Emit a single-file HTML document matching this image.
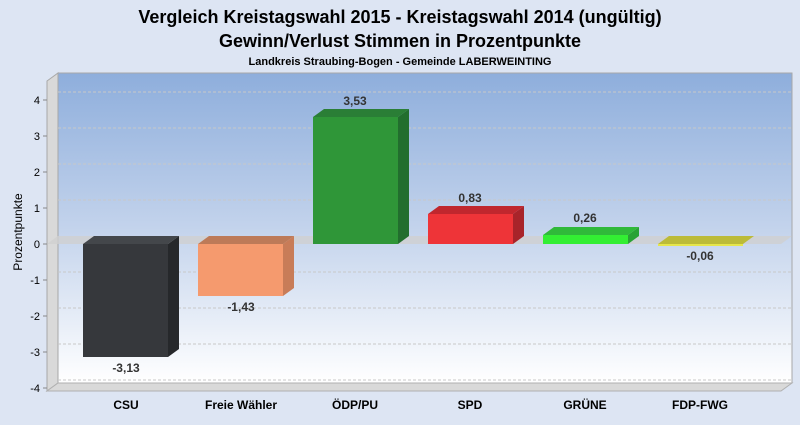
<!DOCTYPE html>
<html><head><meta charset="utf-8"><style>
body{margin:0;width:800px;height:420px;background:#dde5f3;font-family:"Liberation Sans",sans-serif;overflow:hidden}
</style></head><body>
<svg width="800" height="420" xmlns="http://www.w3.org/2000/svg" font-family="Liberation Sans, sans-serif">
<defs>
<linearGradient id="bg" x1="0" y1="0" x2="0" y2="1">
<stop offset="0" stop-color="#8eaedc"/><stop offset="0.5" stop-color="#c3d3ec"/><stop offset="1" stop-color="#ffffff"/>
</linearGradient>
</defs>
<text x="400" y="23" font-size="18" font-weight="bold" text-anchor="middle" fill="#000">Vergleich Kreistagswahl 2015 - Kreistagswahl 2014 (ungültig)</text>
<text x="400" y="47" font-size="18" font-weight="bold" text-anchor="middle" fill="#000">Gewinn/Verlust Stimmen in Prozentpunkte</text>
<text x="400" y="65" font-size="11" font-weight="bold" text-anchor="middle" fill="#000">Landkreis Straubing-Bogen - Gemeinde LABERWEINTING</text>
<!-- back plane -->
<rect x="58" y="73" width="734" height="310" fill="url(#bg)" stroke="#a8a8a8"/>
<!-- left wall -->
<polygon points="47,81 58,73 58,383 47,391" fill="#d9d9d9" stroke="#a8a8a8"/>
<!-- floor -->
<polygon points="47,391 58,383 792,383 781,391" fill="#d9d9d9" stroke="#b0b0b0"/>
<g stroke="#c8c8c8" stroke-dasharray="3,2" stroke-width="1">
<line x1="58" y1="92" x2="792" y2="92"/><line x1="58" y1="128" x2="792" y2="128"/>
<line x1="58" y1="164" x2="792" y2="164"/><line x1="58" y1="200" x2="792" y2="200"/>
<line x1="58" y1="272" x2="792" y2="272"/><line x1="58" y1="308" x2="792" y2="308"/>
<line x1="58" y1="344" x2="792" y2="344"/><line x1="58" y1="380" x2="792" y2="380"/>
</g>
<!-- zero plane -->
<polygon points="47,244 58,236 792,236 781,244" fill="#cfcfcf" opacity="0.8"/>
<!-- y axis -->
<g font-size="11" fill="#000" text-anchor="end">
<text x="40" y="104">4</text><text x="40" y="140">3</text><text x="40" y="176">2</text><text x="40" y="212">1</text>
<text x="40" y="248">0</text><text x="40" y="284">-1</text><text x="40" y="320">-2</text><text x="40" y="356">-3</text><text x="40" y="392">-4</text>
</g>
<g stroke="#888"><line x1="43" y1="100" x2="47" y2="100"/><line x1="43" y1="136" x2="47" y2="136"/><line x1="43" y1="172" x2="47" y2="172"/><line x1="43" y1="208" x2="47" y2="208"/><line x1="43" y1="244" x2="47" y2="244"/><line x1="43" y1="280" x2="47" y2="280"/><line x1="43" y1="316" x2="47" y2="316"/><line x1="43" y1="352" x2="47" y2="352"/><line x1="43" y1="388" x2="47" y2="388"/></g>
<text x="22" y="232" font-size="12" text-anchor="middle" transform="rotate(-90 22 232)">Prozentpunkte</text>
<!-- bars -->
<!-- CSU -->
<polygon points="168,244 179,236 179,349 168,357" fill="#26282b"/>
<polygon points="83,244 94,236 179,236 168,244" fill="#44474b"/>
<rect x="83" y="244" width="85" height="113" fill="#36383c"/>
<!-- FW -->
<polygon points="283,244 294,236 294,288 283,296" fill="#c87c58"/>
<polygon points="198,244 209,236 294,236 283,244" fill="#bd7a58"/>
<rect x="198" y="244" width="85" height="52" fill="#f59a6e"/>
<!-- ODP -->
<polygon points="398,117 409,109 409,236 398,244" fill="#226e2e"/>
<polygon points="313,117 324,109 409,109 398,117" fill="#2a7e36"/>
<rect x="313" y="117" width="85" height="127" fill="#2f9638"/>
<!-- SPD -->
<polygon points="513,214 524,206 524,236 513,244" fill="#a8242a"/>
<polygon points="428,214 439,206 524,206 513,214" fill="#c0272e"/>
<rect x="428" y="214" width="85" height="30" fill="#ee3438"/>
<!-- GRUNE -->
<polygon points="628,235 639,227 639,236 628,244" fill="#29a234"/>
<polygon points="543,235 554,227 639,227 628,235" fill="#30b93a"/>
<rect x="543" y="235" width="85" height="9" fill="#33ee33"/>
<!-- FDP -->
<polygon points="658,244 669,236 754,236 743,244" fill="#bcbb38"/>
<rect x="658" y="244" width="85" height="2" fill="#e6e64a"/>
<!-- value labels -->
<g font-size="12" font-weight="bold" fill="#333" text-anchor="middle">
<text x="126" y="372">-3,13</text>
<text x="241" y="311">-1,43</text>
<text x="355" y="105">3,53</text>
<text x="470" y="202">0,83</text>
<text x="585" y="222">0,26</text>
<text x="700" y="260">-0,06</text>
</g>
<g font-size="12" font-weight="bold" fill="#000" text-anchor="middle">
<text x="126" y="409">CSU</text>
<text x="241" y="409">Freie Wähler</text>
<text x="355" y="409">ÖDP/PU</text>
<text x="470" y="409">SPD</text>
<text x="585" y="409">GRÜNE</text>
<text x="700" y="409">FDP-FWG</text>
</g>
</svg>
</body></html>
